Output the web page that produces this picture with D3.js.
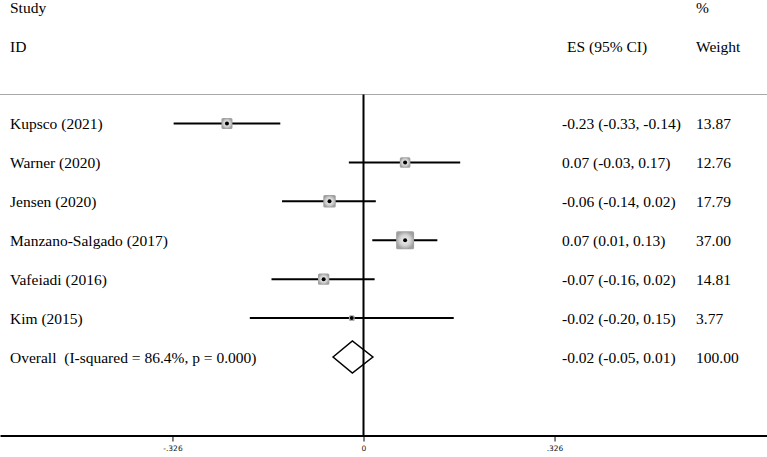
<!DOCTYPE html>
<html>
<head>
<meta charset="utf-8">
<script src="https://cdn.jsdelivr.net/npm/d3@7"></script>
<style>
  html, body { margin: 0; padding: 0; background: #fff; }
  svg { display: block; }
  .lbl { font-family: "Liberation Serif", "Times New Roman", serif; font-size: 15.5px; fill: #000; }
  .tick text { font-family: "DejaVu Sans", sans-serif; font-size: 7.5px; fill: #111; }
</style>
</head>
<body>
<svg id="chart" width="767" height="457"></svg>
<script>
// ---- data ----
const studies = ["Kupsco (2021)", "Warner (2020)", "Jensen (2020)", "Manzano-Salgado (2017)", "Vafeiadi (2016)", "Kim (2015)"];
const es      = [-0.233, 0.071, -0.058, 0.071, -0.068, -0.020];
const lo      = [-0.324, -0.025, -0.139, 0.015, -0.157, -0.194];
const hi      = [-0.142, 0.165, 0.021, 0.126, 0.019, 0.154];
const ciText  = ["-0.23 (-0.33, -0.14)", "0.07 (-0.03, 0.17)", "-0.06 (-0.14, 0.02)", "0.07 (0.01, 0.13)", "-0.07 (-0.16, 0.02)", "-0.02 (-0.20, 0.15)"];
const weights = ["13.87", "12.76", "17.79", "37.00", "14.81", "3.77"];
const overallLabel = "Overall  (I-squared = 86.4%, p = 0.000)";
const overall = { es: -0.019, lo: -0.052, hi: 0.016, text: "-0.02 (-0.05, 0.01)", weight: "100.00" };
const tickValues = [-0.326, 0, 0.326];
const tickLabels = ["-.326", "0", ".326"];

// ---- layout ----
const W = 767, H = 457;
const svg = d3.select("#chart");
const x0 = 363.5, k = 586;
const x = d3.scaleLinear().domain([-x0 / k, (W - x0) / k]).range([0, W]);
const rows = studies.concat([overallLabel]);
const y = d3.scalePoint().domain(d3.range(rows.length)).range([123.5, 357]);
const axisY = 435.5;
const sepY = 94.5;

// gradient for boxes
const defs = svg.append("defs");
const g = defs.append("radialGradient").attr("id", "boxg");
g.append("stop").attr("offset", "0%").attr("stop-color", "#f4f4f4");
g.append("stop").attr("offset", "60%").attr("stop-color", "#d2d2d2");
g.append("stop").attr("offset", "100%").attr("stop-color", "#a0a0a0");

// header
svg.append("text").attr("class", "lbl").attr("x", 10).attr("y", 13).text("Study");
svg.append("text").attr("class", "lbl").attr("x", 10).attr("y", 52).text("ID");
svg.append("text").attr("class", "lbl").attr("x", 567).attr("y", 52).text("ES (95% CI)");
svg.append("text").attr("class", "lbl").attr("x", 696).attr("y", 13).text("%");
svg.append("text").attr("class", "lbl").attr("x", 696).attr("y", 52).text("Weight");

// separator
svg.append("line").attr("x1", 0).attr("x2", W).attr("y1", sepY).attr("y2", sepY)
  .attr("stroke", "#a8a8a8").attr("stroke-width", 1.2);

// zero line
svg.append("line").attr("x1", x(0)).attr("x2", x(0)).attr("y1", sepY).attr("y2", axisY)
  .attr("stroke", "#000").attr("stroke-width", 2);

// axis
const axis = d3.axisBottom(x).tickValues(tickValues).tickSizeInner(6).tickSizeOuter(0)
  .tickFormat((d, i) => tickLabels[i]);
const ax = svg.append("g").attr("transform", `translate(0,${axisY})`).call(axis);
ax.select(".domain").attr("stroke", "#000").attr("stroke-width", 2);
ax.selectAll(".tick line").attr("stroke", "#000").attr("stroke-width", 1);
ax.selectAll(".tick text").attr("dy", "1.3em").attr("y", 6);

// study rows
const idx = d3.range(studies.length);
svg.selectAll("line.ci").data(idx).join("line").attr("class", "ci")
  .attr("x1", i => x(lo[i])).attr("x2", i => x(hi[i]))
  .attr("y1", i => y(i)).attr("y2", i => y(i))
  .attr("stroke", "#000").attr("stroke-width", 2);

svg.selectAll("rect.box").data(idx).join("rect").attr("class", "box")
  .each(function(i) {
    const s = Math.sqrt(+weights[i]) * 2.95;
    d3.select(this).attr("x", x(es[i]) - s / 2).attr("y", y(i) - s / 2)
      .attr("width", s).attr("height", s).attr("rx", 1.5);
  })
  .attr("fill", "url(#boxg)");

svg.selectAll("circle.pt").data(idx).join("circle").attr("class", "pt")
  .attr("cx", i => x(es[i])).attr("cy", i => y(i)).attr("r", 2).attr("fill", "#000");

svg.selectAll("text.study").data(idx).join("text").attr("class", "lbl study")
  .attr("x", 10).attr("y", i => y(i) + 5.5).text(i => studies[i]);
svg.selectAll("text.ci").data(idx).join("text").attr("class", "lbl ci")
  .attr("x", 562).attr("y", i => y(i) + 5.5).text(i => ciText[i]);
svg.selectAll("text.wt").data(idx).join("text").attr("class", "lbl wt")
  .attr("x", 696).attr("y", i => y(i) + 5.5).text(i => weights[i]);

// overall
const oy = y(studies.length);
const dh = 16;
svg.append("path")
  .attr("d", `M${x(overall.lo)},${oy}L${x(overall.es)},${oy - dh}L${x(overall.hi)},${oy}L${x(overall.es)},${oy + dh}Z`)
  .attr("fill", "none").attr("stroke", "#000").attr("stroke-width", 1.5);
svg.append("text").attr("class", "lbl").attr("x", 10).attr("y", oy + 5.5)
  .attr("xml:space", "preserve").style("white-space", "pre").text(overallLabel);
svg.append("text").attr("class", "lbl").attr("x", 562).attr("y", oy + 5.5).text(overall.text);
svg.append("text").attr("class", "lbl").attr("x", 696).attr("y", oy + 5.5).text(overall.weight);
</script>
</body>
</html>
